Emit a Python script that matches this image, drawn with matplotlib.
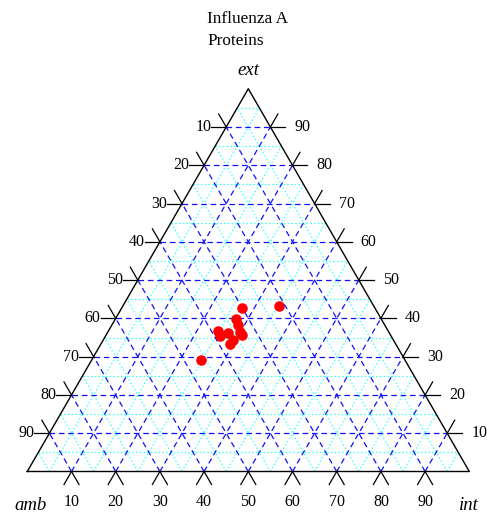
import numpy as np
import matplotlib
matplotlib.use("Agg")
import matplotlib.pyplot as plt

# ---- data (percent) ----
ext_vals = [42.7, 43.2, 39.8, 38.2, 36.6, 35.4, 36.3, 36.5, 35.6, 34.3, 33.2, 29.0]
int_vals = [27.3, 35.3, 27.3, 28.5, 24.9, 25.9, 27.2, 29.9, 30.7, 29.5, 29.3, 24.8]
amb_vals = [30.0, 21.5, 32.9, 33.3, 38.5, 38.7, 36.5, 33.6, 33.7, 36.2, 37.5, 46.2]
tick_values = [10, 20, 30, 40, 50, 60, 70, 80, 90]
title_lines = ["Influenza A", "Proteins"]
axis_names = {"top": "ext", "left": "amb", "right": "int"}

S = np.sqrt(3) / 2
W_PX = 442.0
BLX, BLY = 27.3, 513 - 471.5

fig = plt.figure(figsize=(4.87, 5.13), dpi=100)
ax = fig.add_axes([0, 0, 1, 1])
ax.set_xlim(-BLX / W_PX, (487 - BLX) / W_PX)
ax.set_ylim(-BLY / W_PX, (513 - BLY) / W_PX)
ax.axis("off")

def xy(e, i):
    e = np.asarray(e, float); i = np.asarray(i, float)
    return i + e / 2, e * S

serif = "Liberation Serif"

# grid
def grid(level, **kw):
    # const ext
    x0, y0 = xy(level, 0); x1, y1 = xy(level, 1 - level)
    ax.plot([x0, x1], [y0, y1], **kw)
    # const int
    x0, y0 = xy(0, level); x1, y1 = xy(1 - level, level)
    ax.plot([x0, x1], [y0, y1], **kw)
    # const amb
    x0, y0 = xy(0, 1 - level); x1, y1 = xy(1 - level, 0)
    ax.plot([x0, x1], [y0, y1], **kw)

for k in range(10):
    grid((k + 0.5) / 10, color="#33ffff", lw=0.9, ls=(0, (1.2, 1.8)), zorder=1)
for k in range(1, 10):
    grid(k / 10, color="#1010ff", lw=0.9, ls=(0, (4.5, 3)), zorder=2)

# outline
ax.plot([0, 1, 0.5, 0], [0, 0, S, 0], color="black", lw=1.0, zorder=3)

L = 15 / W_PX
fs_tick = 11.5
for v in tick_values:
    t = v / 100
    # left edge: amb = t, ext = 1 - t
    x, y = xy(1 - t, 0)
    ax.plot([x, x - L], [y, y], color="black", lw=0.9, zorder=3)
    ax.plot([x, x - 0.5 * L], [y, y + S * L], color="black", lw=0.9, zorder=3)
    ax.text(x - L, y, str(v), ha="right", va="center", fontsize=fs_tick,
            family=serif)
    # right edge: ext = t
    x, y = xy(t, 1 - t)
    ax.plot([x, x + L], [y, y], color="black", lw=0.9, zorder=3)
    ax.plot([x, x + 0.5 * L], [y, y + S * L], color="black", lw=0.9, zorder=3)
    ax.text(x + L + 9 / W_PX, y, str(v), ha="left", va="center",
            fontsize=fs_tick, family=serif)
    # bottom: int = t
    x, y = xy(0, t)
    ax.plot([x, x - 0.5 * L], [y, y - S * L], color="black", lw=0.9, zorder=3)
    ax.plot([x, x + 0.5 * L], [y, y - S * L], color="black", lw=0.9, zorder=3)
    ax.text(x, y - 31 / W_PX, str(v), ha="center", va="center",
            fontsize=fs_tick, family=serif)

# data points
e = np.array(ext_vals) / 100
i = np.array(int_vals) / 100
px, py = xy(e, i)
ax.plot(px, py, "o", color="red", markersize=7.6, markeredgewidth=0, zorder=5)

# axis names
ax.text(0.5, S + 18 / W_PX, axis_names["top"], ha="center", va="center",
        fontsize=13.5, style="italic", family=serif)
ax.text(3 / W_PX, -34 / W_PX, axis_names["left"], ha="center", va="center",
        fontsize=13.5, style="italic", family=serif)
ax.text(1.0, -34 / W_PX, axis_names["right"], ha="center", va="center",
        fontsize=13.5, style="italic", family=serif)

# title
fig.text(207 / 487, 1 - 19 / 513, title_lines[0], ha="left", va="center",
         fontsize=12.4, family=serif)
fig.text(207 / 487, 1 - 41 / 513, title_lines[1], ha="left", va="center",
         fontsize=12.4, family=serif)

fig.savefig("out.png", dpi=100)
